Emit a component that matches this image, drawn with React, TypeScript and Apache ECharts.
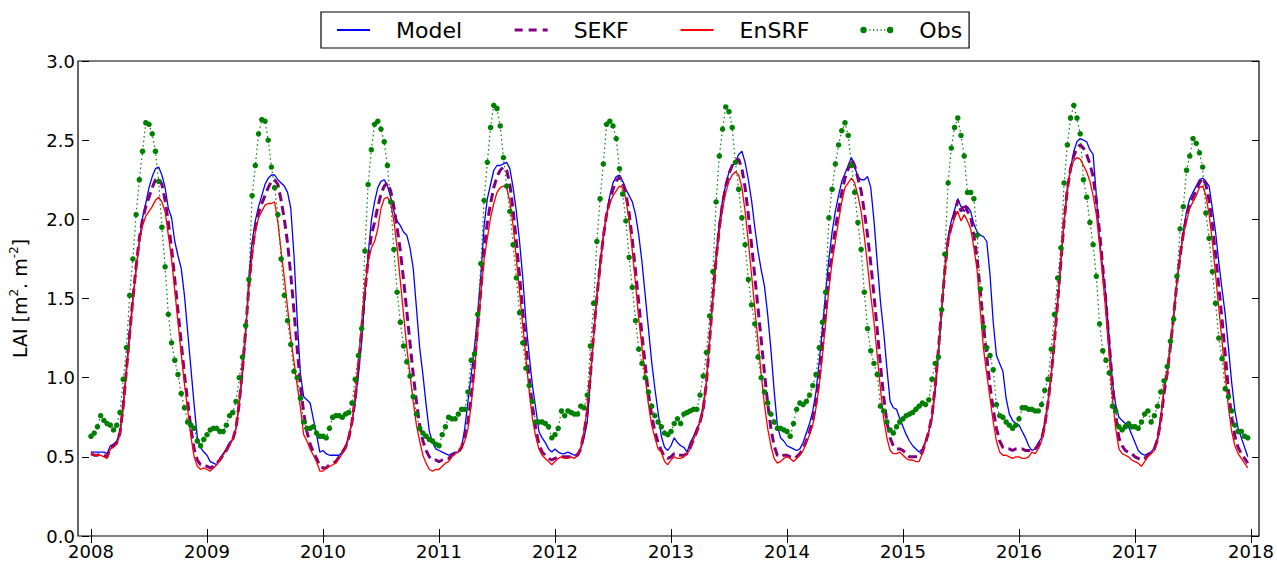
import React, { useEffect, useRef } from "react";
import * as echarts from "echarts";

// ---- data: dekadal (36 per year) samples, 2008-01 .. 2017-12 ----
const START_YEAR = 2008;
const STEPS_PER_YEAR = 36;
const X_MIN = 2008;
const X_MAX = 2018;
const Y_MIN = 0;
const Y_MAX = 3;

const obs: number[] = [
  // 2008
  0.63,0.65,0.69,0.76,0.73,0.71,0.70,0.67,0.70,0.78,0.99,1.19,1.52,1.75,2.03,2.25,2.43,2.61,2.60,2.54,2.43,2.24,1.95,1.70,1.40,1.22,1.11,1.02,0.90,0.81,0.72,0.70,0.68,0.60,0.57,0.61,
  // 2009
  0.64,0.67,0.68,0.68,0.66,0.66,0.70,0.76,0.78,0.85,1.00,1.13,1.33,1.62,2.15,2.34,2.54,2.63,2.62,2.50,2.33,2.20,2.03,1.75,1.52,1.36,1.21,1.04,1.00,0.87,0.72,0.68,0.68,0.69,0.65,0.63,
  // 2010
  0.63,0.62,0.68,0.75,0.76,0.76,0.75,0.77,0.78,0.84,0.99,1.14,1.31,1.80,2.22,2.44,2.60,2.62,2.57,2.49,2.34,2.11,1.81,1.54,1.35,1.20,1.10,1.01,0.88,0.77,0.68,0.65,0.63,0.61,0.60,0.58,
  // 2011
  0.57,0.64,0.69,0.75,0.74,0.74,0.77,0.80,0.80,0.91,1.11,1.15,1.40,1.72,2.12,2.36,2.58,2.72,2.70,2.59,2.39,2.21,2.05,1.84,1.63,1.41,1.22,1.06,0.95,0.85,0.72,0.72,0.72,0.71,0.69,0.62,
  // 2012
  0.64,0.68,0.79,0.76,0.79,0.78,0.77,0.77,0.82,0.81,0.89,1.20,1.47,1.86,2.13,2.35,2.60,2.62,2.59,2.51,2.32,2.16,1.99,1.76,1.57,1.36,1.18,1.09,1.00,0.91,0.82,0.76,0.72,0.69,0.65,0.64,
  // 2013
  0.66,0.71,0.74,0.71,0.77,0.78,0.79,0.80,0.80,0.89,1.01,1.16,1.39,1.67,2.11,2.40,2.57,2.71,2.68,2.58,2.36,2.19,2.01,1.84,1.62,1.46,1.34,1.13,1.00,0.91,0.84,0.77,0.72,0.68,0.68,0.67,
  // 2014
  0.66,0.63,0.71,0.80,0.84,0.83,0.85,0.89,0.95,1.02,1.19,1.35,1.54,2.01,2.19,2.35,2.47,2.56,2.61,2.53,2.34,2.17,1.98,1.81,1.54,1.31,1.17,1.09,1.02,0.82,0.79,0.72,0.67,0.65,0.69,0.72,
  // 2015
  0.74,0.76,0.77,0.78,0.80,0.82,0.84,0.83,0.86,0.99,1.09,1.13,1.43,1.78,2.23,2.45,2.58,2.64,2.53,2.40,2.17,2.17,2.13,1.90,1.56,1.32,1.19,1.14,1.05,0.83,0.76,0.75,0.72,0.70,0.68,0.70,
  // 2016
  0.74,0.81,0.81,0.80,0.80,0.79,0.79,0.83,0.92,0.99,1.18,1.40,1.63,1.82,2.23,2.47,2.64,2.72,2.64,2.54,2.25,2.14,1.98,1.84,1.64,1.34,1.17,1.11,1.03,0.82,0.79,0.69,0.67,0.69,0.71,0.69,
  // 2017
  0.69,0.68,0.72,0.77,0.79,0.72,0.76,0.82,0.91,0.98,1.07,1.23,1.37,1.64,1.94,2.08,2.31,2.40,2.51,2.48,2.42,2.33,2.04,1.88,1.67,1.47,1.25,1.12,0.93,0.88,0.79,0.70,0.66,0.66,0.63,0.62,
];

const model: number[] = [
  // 2008
  0.53,0.53,0.53,0.53,0.53,0.52,0.57,0.58,0.60,0.66,0.83,1.06,1.29,1.50,1.69,1.86,2.01,2.10,2.20,2.27,2.32,2.33,2.28,2.20,2.07,2.01,1.86,1.77,1.69,1.52,1.29,1.06,0.83,0.62,0.56,0.53,
  // 2009
  0.51,0.47,0.46,0.45,0.49,0.52,0.55,0.59,0.61,0.68,0.83,1.02,1.27,1.63,1.86,1.99,2.08,2.15,2.22,2.26,2.28,2.28,2.25,2.23,2.21,2.17,2.07,1.77,1.37,1.02,0.88,0.86,0.84,0.74,0.64,0.53,
  // 2010
  0.54,0.52,0.51,0.51,0.51,0.51,0.53,0.57,0.63,0.72,0.85,1.02,1.23,1.52,1.77,1.99,2.11,2.20,2.24,2.25,2.21,2.14,2.05,1.99,1.96,1.92,1.90,1.82,1.69,1.44,1.19,1.02,0.83,0.66,0.59,0.55,
  // 2011
  0.54,0.53,0.52,0.51,0.52,0.53,0.53,0.56,0.68,0.85,1.02,1.19,1.40,1.65,1.96,2.13,2.22,2.31,2.34,2.34,2.35,2.36,2.32,2.20,2.05,1.86,1.63,1.35,1.14,0.95,0.81,0.66,0.62,0.59,0.55,0.53,
  // 2012
  0.55,0.53,0.52,0.52,0.53,0.52,0.51,0.52,0.55,0.62,0.72,0.98,1.27,1.52,1.73,1.90,2.03,2.15,2.23,2.27,2.28,2.24,2.19,2.15,2.11,2.03,1.90,1.73,1.52,1.31,1.10,0.93,0.78,0.63,0.56,0.54,
  // 2013
  0.57,0.62,0.59,0.57,0.56,0.53,0.59,0.63,0.68,0.72,0.83,0.97,1.25,1.52,1.77,1.98,2.12,2.22,2.30,2.34,2.36,2.41,2.43,2.36,2.25,2.12,1.95,1.80,1.68,1.58,1.40,1.18,0.92,0.70,0.62,0.60,
  // 2014
  0.57,0.56,0.55,0.54,0.55,0.59,0.65,0.71,0.79,0.91,1.10,1.31,1.54,1.75,1.92,2.05,2.15,2.24,2.29,2.34,2.39,2.33,2.27,2.25,2.25,2.27,2.20,1.99,1.73,1.48,1.29,1.06,0.85,0.81,0.80,0.74,
  // 2015
  0.69,0.64,0.60,0.57,0.55,0.53,0.55,0.60,0.66,0.74,0.92,1.14,1.42,1.69,1.89,1.99,2.06,2.13,2.08,2.05,2.08,2.05,1.97,1.92,1.90,1.89,1.86,1.65,1.35,1.14,1.09,1.04,0.87,0.77,0.73,0.71,
  // 2016
  0.70,0.66,0.62,0.57,0.54,0.55,0.59,0.62,0.72,0.85,1.02,1.23,1.48,1.73,1.99,2.20,2.32,2.43,2.49,2.51,2.50,2.49,2.44,2.41,2.15,1.86,1.69,1.50,1.25,0.97,0.83,0.75,0.73,0.71,0.69,0.64,
  // 2017
  0.59,0.54,0.52,0.51,0.52,0.53,0.56,0.62,0.76,0.91,1.04,1.21,1.40,1.61,1.77,1.92,2.05,2.13,2.17,2.21,2.25,2.26,2.24,2.21,2.07,1.92,1.73,1.56,1.40,1.19,0.97,0.79,0.68,0.62,0.56,0.50,
];

const sekf: number[] = [
  // 2008
  0.52,0.51,0.51,0.52,0.51,0.50,0.56,0.57,0.59,0.65,0.82,1.05,1.28,1.50,1.70,1.88,2.00,2.08,2.14,2.20,2.25,2.26,2.22,2.12,1.98,1.82,1.62,1.42,1.22,1.02,0.85,0.68,0.55,0.48,0.45,0.45,
  // 2009
  0.44,0.43,0.44,0.46,0.48,0.51,0.54,0.58,0.61,0.68,0.84,1.05,1.30,1.58,1.80,1.95,2.04,2.10,2.15,2.20,2.24,2.25,2.22,2.12,2.00,1.85,1.65,1.42,1.18,0.95,0.78,0.66,0.58,0.53,0.49,0.44,
  // 2010
  0.43,0.43,0.45,0.46,0.47,0.50,0.53,0.56,0.62,0.72,0.87,1.07,1.30,1.54,1.75,1.90,1.98,2.08,2.16,2.21,2.23,2.18,2.08,1.95,1.80,1.62,1.42,1.22,1.02,0.85,0.70,0.60,0.54,0.50,0.48,0.48,
  // 2011
  0.47,0.48,0.49,0.49,0.51,0.52,0.53,0.56,0.62,0.72,0.88,1.08,1.32,1.56,1.80,1.98,2.10,2.20,2.27,2.31,2.33,2.31,2.22,2.06,1.86,1.64,1.42,1.20,1.00,0.82,0.68,0.58,0.53,0.51,0.49,0.48,
  // 2012
  0.49,0.50,0.50,0.50,0.50,0.50,0.50,0.51,0.55,0.65,0.78,1.02,1.28,1.51,1.71,1.89,2.03,2.12,2.19,2.24,2.27,2.24,2.16,2.04,1.87,1.67,1.47,1.27,1.08,0.90,0.76,0.66,0.59,0.54,0.50,0.49,
  // 2013
  0.50,0.52,0.51,0.51,0.51,0.52,0.56,0.61,0.66,0.72,0.80,0.97,1.24,1.51,1.75,1.95,2.10,2.21,2.29,2.34,2.37,2.38,2.32,2.20,2.03,1.84,1.64,1.44,1.24,1.03,0.84,0.68,0.57,0.51,0.50,0.51,
  // 2014
  0.51,0.50,0.49,0.50,0.52,0.55,0.60,0.66,0.73,0.84,1.00,1.20,1.42,1.62,1.80,1.94,2.06,2.17,2.26,2.32,2.38,2.34,2.26,2.18,2.05,1.90,1.72,1.52,1.30,1.08,0.88,0.72,0.62,0.57,0.55,0.55,
  // 2015
  0.54,0.52,0.50,0.50,0.50,0.50,0.53,0.59,0.66,0.76,0.95,1.18,1.44,1.68,1.87,1.96,2.03,2.12,2.05,2.10,2.05,2.02,1.90,1.75,1.55,1.33,1.13,0.95,0.80,0.68,0.60,0.56,0.55,0.55,0.54,0.55,
  // 2016
  0.55,0.55,0.54,0.54,0.54,0.55,0.57,0.61,0.70,0.84,1.02,1.23,1.48,1.73,1.99,2.19,2.32,2.40,2.45,2.47,2.45,2.41,2.35,2.27,2.12,1.92,1.70,1.47,1.22,0.96,0.76,0.62,0.57,0.54,0.53,0.52,
  // 2017
  0.50,0.49,0.48,0.49,0.51,0.53,0.55,0.61,0.73,0.90,1.03,1.20,1.39,1.60,1.77,1.91,2.02,2.10,2.14,2.18,2.23,2.26,2.22,2.12,1.97,1.78,1.58,1.37,1.15,0.92,0.75,0.63,0.56,0.52,0.49,0.46,
];

const ensrf: number[] = [
  // 2008
  0.53,0.51,0.51,0.51,0.50,0.49,0.55,0.56,0.58,0.64,0.80,1.03,1.25,1.48,1.68,1.85,1.96,2.02,2.05,2.08,2.12,2.14,2.11,2.05,1.90,1.75,1.55,1.35,1.15,0.96,0.80,0.63,0.50,0.44,0.42,0.43,
  // 2009
  0.42,0.41,0.43,0.45,0.48,0.51,0.54,0.57,0.61,0.68,0.85,1.06,1.31,1.56,1.77,1.92,2.01,2.05,2.09,2.10,2.10,2.11,1.98,1.80,1.63,1.44,1.25,1.10,0.95,0.81,0.64,0.60,0.55,0.51,0.47,0.41,
  // 2010
  0.41,0.43,0.44,0.45,0.46,0.49,0.52,0.55,0.62,0.72,0.89,1.10,1.35,1.56,1.73,1.82,1.86,1.94,2.07,2.13,2.14,2.10,1.99,1.82,1.61,1.40,1.19,1.02,0.85,0.70,0.60,0.51,0.46,0.42,0.41,0.42,
  // 2011
  0.42,0.44,0.46,0.47,0.50,0.52,0.53,0.56,0.60,0.68,0.83,1.04,1.29,1.53,1.75,1.88,2.01,2.10,2.17,2.20,2.21,2.20,2.11,1.96,1.75,1.54,1.33,1.12,0.91,0.74,0.63,0.55,0.51,0.49,0.47,0.45,
  // 2012
  0.47,0.49,0.50,0.49,0.49,0.50,0.49,0.51,0.56,0.66,0.81,1.02,1.27,1.50,1.69,1.88,2.03,2.10,2.15,2.18,2.21,2.20,2.13,1.99,1.80,1.59,1.37,1.19,1.00,0.83,0.70,0.62,0.55,0.53,0.47,0.45,
  // 2013
  0.48,0.50,0.49,0.49,0.50,0.52,0.55,0.61,0.66,0.72,0.79,0.97,1.23,1.50,1.73,1.92,2.07,2.17,2.24,2.28,2.30,2.28,2.20,2.05,1.86,1.65,1.44,1.23,1.02,0.83,0.68,0.57,0.49,0.46,0.47,0.49,
  // 2014
  0.50,0.49,0.47,0.49,0.51,0.54,0.59,0.64,0.70,0.81,0.95,1.14,1.35,1.56,1.73,1.86,1.99,2.11,2.20,2.23,2.26,2.23,2.15,2.05,1.89,1.71,1.52,1.35,1.14,0.93,0.74,0.62,0.54,0.52,0.52,0.53,
  // 2015
  0.51,0.49,0.48,0.48,0.47,0.47,0.52,0.59,0.66,0.76,0.95,1.19,1.44,1.67,1.86,1.94,2.01,2.05,1.99,2.03,1.99,1.94,1.82,1.68,1.42,1.18,1.02,0.87,0.72,0.60,0.53,0.51,0.51,0.50,0.49,0.50,
  // 2016
  0.50,0.49,0.49,0.50,0.53,0.52,0.55,0.60,0.69,0.83,1.02,1.23,1.48,1.73,1.99,2.17,2.32,2.37,2.39,2.38,2.34,2.30,2.24,2.15,2.03,1.84,1.63,1.40,1.14,0.87,0.68,0.55,0.52,0.51,0.50,0.48,
  // 2017
  0.47,0.46,0.44,0.47,0.50,0.52,0.54,0.60,0.72,0.95,1.01,1.19,1.37,1.59,1.77,1.90,1.99,2.07,2.11,2.15,2.20,2.21,2.15,2.03,1.86,1.65,1.44,1.23,1.02,0.81,0.66,0.57,0.52,0.49,0.46,0.43,
];

const seriesNames = ["Model", "SEKF", "EnSRF", "Obs"];
const FONT = "DejaVu Sans";

// legend icon for the observation series: two markers joined by a dotted line
const OBS_ICON =
  "path://M1,4 A3,3 0 1,0 7,4 A3,3 0 1,0 1,4 Z " +
  "M26,4 A3,3 0 1,0 32,4 A3,3 0 1,0 26,4 Z " +
  "M9.4,3.4 h1.2 v1.2 h-1.2 Z M12.9,3.4 h1.2 v1.2 h-1.2 Z M16.4,3.4 h1.2 v1.2 h-1.2 Z " +
  "M19.9,3.4 h1.2 v1.2 h-1.2 Z M23.2,3.4 h1.2 v1.2 h-1.2 Z";

function toPairs(vals: number[]): [number, number][] {
  return vals.map((v, i) => [START_YEAR + i / STEPS_PER_YEAR, v]);
}

export default function App() {
  const ref = useRef<HTMLDivElement | null>(null);

  useEffect(() => {
    if (!ref.current) return;
    const chart = echarts.init(ref.current, undefined, { renderer: "svg" });

    const tickStyle = { show: true, inside: true, length: 7, lineStyle: { color: "#000", width: 1 } };
    const hiddenMarker = { color: "rgba(0,0,0,0)", borderWidth: 0 };

    const option: any = {
      animation: false,
      backgroundColor: "#ffffff",
      textStyle: { fontFamily: FONT },
      grid: { left: 87, right: 26, top: 61, bottom: 27, containLabel: false },
      legend: {
        data: [
          { name: seriesNames[0], itemStyle: hiddenMarker },
          { name: seriesNames[1], itemStyle: hiddenMarker, lineStyle: { width: 3.2, type: [8, 6] } },
          { name: seriesNames[2], itemStyle: hiddenMarker },
          { name: seriesNames[3], icon: OBS_ICON },
        ],
        left: 321,
        top: 12,
        orient: "horizontal",
        padding: [7, 7, 7, 15],
        itemGap: 51,
        itemWidth: 33,
        itemHeight: 8,
        borderColor: "#000",
        borderWidth: 1.2,
        borderRadius: 0,
        backgroundColor: "#fff",
        textStyle: { fontFamily: FONT, fontSize: 22, color: "#000", padding: [0, 0, 0, 21] },
      },
      xAxis: [
        {
          type: "value",
          position: "bottom",
          min: X_MIN,
          max: X_MAX,
          interval: 1,
          axisLine: { show: false },
          axisTick: tickStyle,
          splitLine: { show: false },
          axisLabel: {
            color: "#000",
            fontFamily: FONT,
            fontSize: 18,
            margin: 6,
            formatter: (v: number) => String(Math.round(v)),
          },
        },
        {
          type: "value",
          position: "top",
          min: X_MIN,
          max: X_MAX,
          interval: 1,
          axisLine: { show: false },
          axisTick: tickStyle,
          splitLine: { show: false },
          axisLabel: { show: false },
        },
      ],
      yAxis: [
        {
          type: "value",
          position: "left",
          offset: 9,
          min: Y_MIN,
          max: Y_MAX,
          interval: 0.5,
          axisLine: { show: false },
          axisTick: tickStyle,
          splitLine: { show: false },
          axisLabel: {
            color: "#000",
            fontFamily: FONT,
            fontSize: 18,
            margin: 7,
            formatter: (v: number) => v.toFixed(1),
          },
          name: "{n|LAI [m}{s|2}{n|. m}{s|-2}{n|]}",
          nameLocation: "middle",
          nameRotate: 90,
          nameGap: 50,
          nameTextStyle: {
            color: "#000",
            fontFamily: FONT,
            fontSize: 19,
            rich: {
              n: { fontFamily: FONT, fontSize: 19, color: "#000", lineHeight: 24 },
              s: { fontFamily: FONT, fontSize: 12, color: "#000", lineHeight: 12, verticalAlign: "top" },
            },
          },
        },
        {
          type: "value",
          position: "right",
          offset: 8,
          min: Y_MIN,
          max: Y_MAX,
          interval: 0.5,
          axisLine: { show: false },
          axisTick: tickStyle,
          splitLine: { show: false },
          axisLabel: { show: false },
        },
      ],
      graphic: [
        {
          type: "rect",
          silent: true,
          z: 100,
          shape: { x: 78, y: 61, width: 1181, height: 475 },
          style: { fill: "none", stroke: "#000", lineWidth: 1.2 },
        },
      ],
      series: [
        {
          name: "Model",
          type: "line",
          data: toPairs(model),
          symbol: "none",
          lineStyle: { color: "#0000ff", width: 1.3 },
          itemStyle: { color: "#0000ff" },
          z: 2,
        },
        {
          name: "SEKF",
          type: "line",
          data: toPairs(sekf),
          symbol: "none",
          lineStyle: { color: "#800080", width: 3, type: [9, 5] },
          itemStyle: { color: "#800080" },
          z: 3,
        },
        {
          name: "EnSRF",
          type: "line",
          data: toPairs(ensrf),
          symbol: "none",
          lineStyle: { color: "#ff0000", width: 1.3 },
          itemStyle: { color: "#ff0000" },
          z: 4,
        },
        {
          name: "Obs",
          type: "line",
          data: toPairs(obs),
          symbol: "circle",
          symbolSize: 5.5,
          showSymbol: true,
          showAllSymbol: true,
          lineStyle: { color: "#008000", width: 1.2, type: [1.5, 3] },
          itemStyle: { color: "#008000" },
          z: 5,
        },
      ],
    };

    chart.setOption(option);
    return () => chart.dispose();
  }, []);

  return (
    <div
      ref={ref}
      style={{ position: "absolute", left: 0, top: 0, width: 1277, height: 563, background: "#fff" }}
    />
  );
}
